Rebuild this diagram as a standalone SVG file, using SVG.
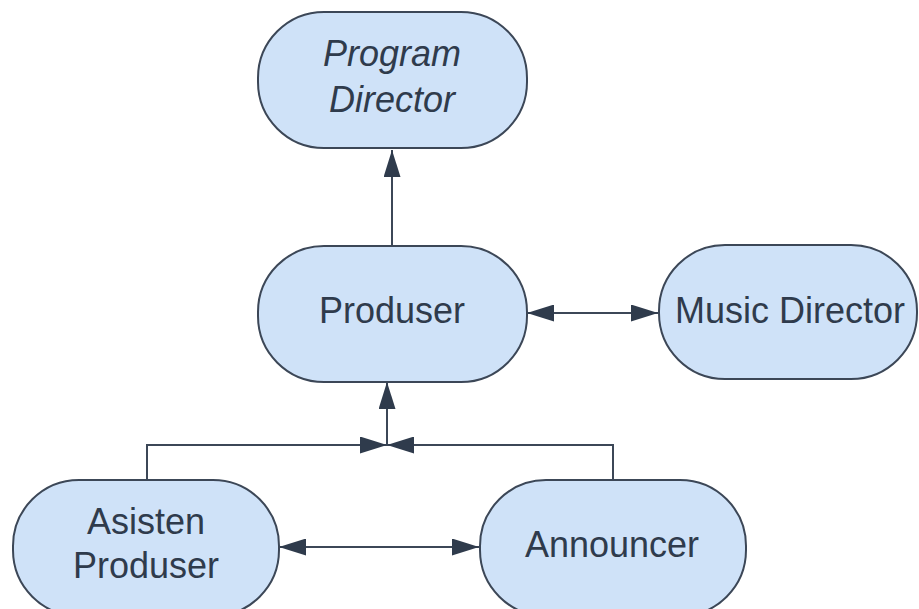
<svg xmlns="http://www.w3.org/2000/svg" width="919" height="609" viewBox="0 0 919 609">
<defs>
<style>
.node{fill:#cfe2f8;stroke:#3c4757;stroke-width:2}
.lbl{font-family:"Liberation Sans",Arial,sans-serif;font-size:36px;fill:#2f3b4c;text-anchor:middle}
.conn{fill:none;stroke:#3c4757;stroke-width:2}
</style>
<marker id="ahb" viewBox="0 0 10 10" refX="10" refY="5" markerWidth="27" markerHeight="17" markerUnits="userSpaceOnUse" orient="auto-start-reverse" preserveAspectRatio="none">
<path d="M0,0 L10,5 L0,10 z" fill="#2f3b4c"/>
</marker>
</defs>
<rect width="919" height="609" fill="#ffffff"/>
<g id="connectors">
<path class="conn" d="M392,246 V150" marker-end="url(#ahb)"/>
<path class="conn" d="M527,313 H658" marker-start="url(#ahb)" marker-end="url(#ahb)"/>
<path class="conn" d="M387,445 V382" marker-end="url(#ahb)"/>
<path class="conn" d="M147,480 V445 H387" marker-end="url(#ahb)"/>
<path class="conn" d="M613,480 V445 H387" marker-end="url(#ahb)"/>
<path class="conn" d="M279,547 H479" marker-start="url(#ahb)" marker-end="url(#ahb)"/>
</g>
<g id="program-director">
<rect class="node" x="258" y="12" width="269" height="136" rx="66" ry="66"/>
<text class="lbl" x="392" y="66" font-style="italic">Program</text>
<text class="lbl" x="392" y="112" font-style="italic">Director</text>
</g>
<g id="produser">
<rect class="node" x="258" y="246" width="269" height="136" rx="66" ry="66"/>
<text class="lbl" x="392" y="323">Produser</text>
</g>
<g id="music-director">
<rect class="node" x="659" y="245" width="258" height="134" rx="66" ry="66"/>
<text class="lbl" x="790" y="323">Music Director</text>
</g>
<g id="asisten-produser">
<rect class="node" x="13" y="480" width="266" height="136" rx="66" ry="66"/>
<text class="lbl" x="146" y="534">Asisten</text>
<text class="lbl" x="146" y="578">Produser</text>
</g>
<g id="announcer">
<rect class="node" x="480" y="480" width="266" height="136" rx="66" ry="66"/>
<text class="lbl" x="612" y="557">Announcer</text>
</g>
</svg>
